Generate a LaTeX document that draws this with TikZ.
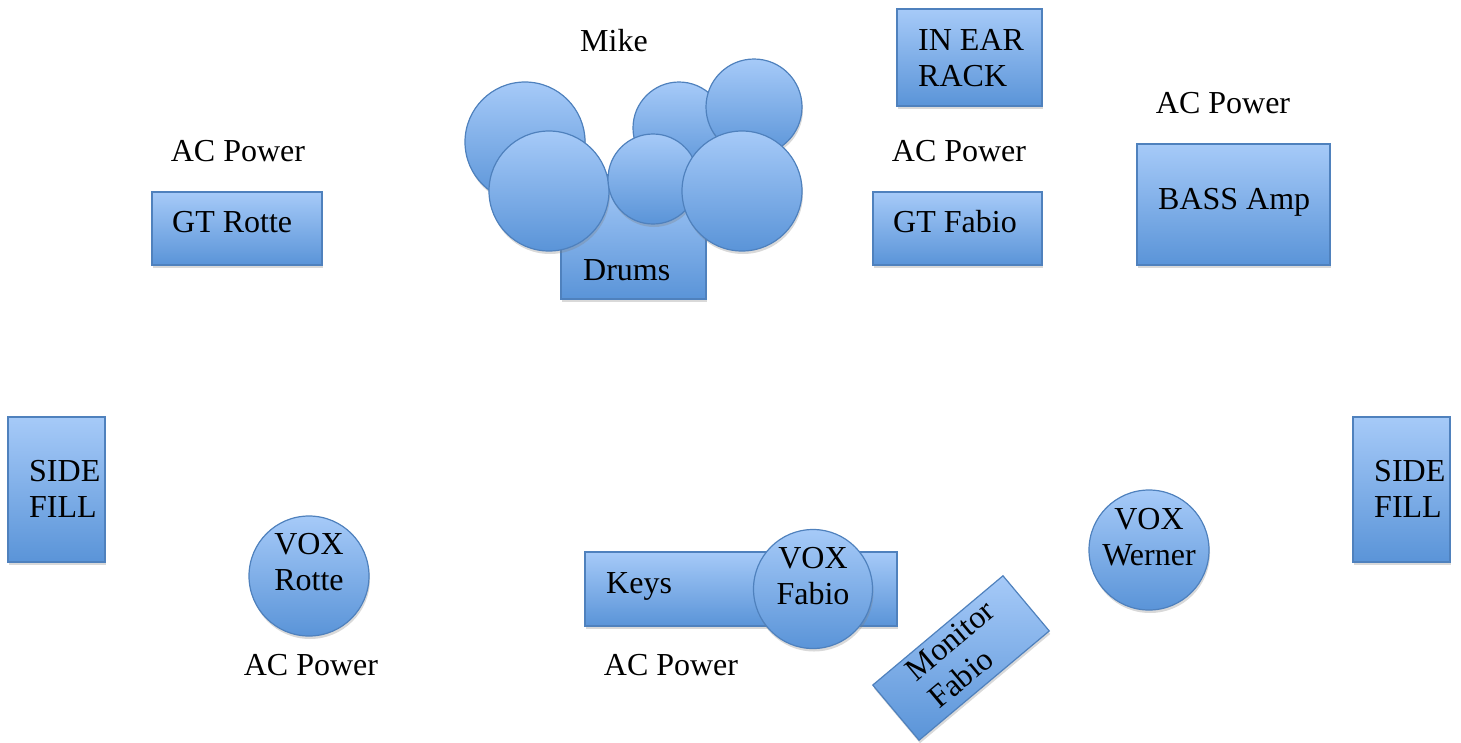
\documentclass[tikz,border=0pt]{standalone}
\usepackage{fontspec}
\setmainfont{Liberation Serif}
\usepackage{tikz}
\usetikzlibrary{shadows}
\definecolor{BoxTop}{HTML}{A6CAF8}
\definecolor{BoxBot}{HTML}{5A94D8}
\definecolor{BoxLine}{HTML}{4F81BD}

\begin{document}
\begin{tikzpicture}[x=1pt,y=-1pt,
  gear/.style={draw=BoxLine,line width=1.2pt,top color=BoxTop,bottom color=BoxBot,inner sep=0pt,
    drop shadow={shadow xshift=1pt,shadow yshift=-3pt,opacity=0.3}},
  box/.style={gear,rectangle},
  drum/.style={gear,circle},
  txt/.style={font=\fontsize{32}{36}\selectfont,inner sep=0pt},
  lbl/.style={txt,anchor=base west}]
  \useasboundingbox (0,0) rectangle (1461,742);

  % back line
  \node[box,minimum width=145pt,minimum height=97pt] (inear) at (969.5,57.5) {};
  \node[txt,align=left,anchor=west] (inearlbl) at (918,58) {IN EAR\\RACK};
  \node[box,minimum width=170pt,minimum height=73pt] (gtrotte) at (237,228.5) {};
  \node[lbl] (gtrottelbl) at (172,232) {GT Rotte};
  \node[box,minimum width=169pt,minimum height=73pt] (gtfabio) at (957.5,228.5) {};
  \node[lbl] (gtfabiolbl) at (893,232) {GT Fabio};
  \node[box,minimum width=193pt,minimum height=121pt] (bass) at (1233.5,204.5) {};
  \node[lbl] (basslbl) at (1158,209) {BASS Amp};

  % drum kit
  \node[box,minimum width=145pt,minimum height=124pt] (drums) at (633.5,237) {};
  \node[lbl] (drumslbl) at (583,280) {Drums};
  \node[drum,minimum size=120pt] (tomA) at (525,142) {};
  \node[drum,minimum size=92pt] (tomB) at (679,128) {};
  \node[drum,minimum size=96pt] (crash) at (754,107) {};
  \node[drum,minimum size=120pt] (floorA) at (549,191) {};
  \node[drum,minimum size=90pt] (snare) at (653,179) {};
  \node[drum,minimum size=120pt] (floorB) at (742,191) {};
  \node[txt,anchor=base] (mike) at (614,51) {Mike};

  % side fills
  \node[box,minimum width=97pt,minimum height=145pt] (fillL) at (56.5,489.5) {};
  \node[txt,align=left,anchor=west] (fillLlbl) at (29,489) {SIDE\\FILL};
  \node[box,minimum width=97pt,minimum height=145pt] (fillR) at (1401.5,489.5) {};
  \node[txt,align=left,anchor=west] (fillRlbl) at (1374,489) {SIDE\\FILL};

  % front line
  \node[box,minimum width=312pt,minimum height=74pt] (keys) at (741,589) {};
  \node[lbl] (keyslbl) at (606,593) {Keys};
  \node[drum,minimum size=120pt] (voxrotte) at (309,576) {};
  \node[txt,align=center] (voxrottelbl) at (309,562) {VOX\\Rotte};
  \node[drum,minimum size=119pt] (voxfabio) at (813,589) {};
  \node[txt,align=center] (voxfabiolbl) at (813,576) {VOX\\Fabio};
  \node[drum,minimum size=120pt] (voxwerner) at (1149,550) {};
  \node[txt,align=center] (voxwernerlbl) at (1149,537) {VOX\\Werner};
  \node[box,minimum width=170pt,minimum height=72pt,rotate=40] (monitor) at (961,658) {};
  \node[txt,align=left,anchor=west,rotate=40] (monitorlbl) at (921,688) {Monitor\\Fabio};

  % power
  \node[txt,anchor=base] (powA) at (238,161) {AC Power};
  \node[txt,anchor=base] (powB) at (959,161) {AC Power};
  \node[txt,anchor=base] (powC) at (1223,113) {AC Power};
  \node[txt,anchor=base] (powD) at (311,675) {AC Power};
  \node[txt,anchor=base] (powE) at (671,675) {AC Power};
\end{tikzpicture}
\end{document}
